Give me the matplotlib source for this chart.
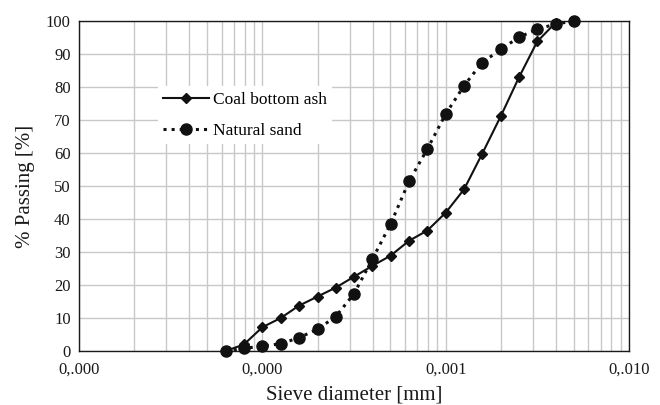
import matplotlib
matplotlib.use("Agg")
import matplotlib.pyplot as plt
from matplotlib.ticker import FixedLocator, FixedFormatter, LogLocator, NullFormatter

plt.rcParams['font.family'] = ['Liberation Serif', 'DejaVu Serif']

# Sieve diameters (axis units as in the original chart)
diam_coal = [0.0000631, 0.0000794, 0.0001, 0.000126, 0.000158, 0.000200, 0.000251,
             0.000316, 0.000398, 0.000501, 0.000631, 0.000794, 0.001, 0.00126,
             0.00158, 0.002, 0.00251, 0.00316, 0.00398]
pass_coal = [0.0, 2.0, 7.2, 10.0, 13.7, 16.5, 19.2, 22.5, 25.8, 28.9, 33.4, 36.5,
             41.9, 49.0, 59.7, 71.2, 82.9, 93.8, 99.5]

diam_sand = [0.0000631, 0.0000794, 0.0001, 0.000126, 0.000158, 0.000200, 0.000251,
             0.000316, 0.000398, 0.000501, 0.000631, 0.000794, 0.001, 0.00126,
             0.00158, 0.002, 0.00251, 0.00316, 0.00398, 0.00501]
pass_sand = [0.0, 0.8, 1.5, 2.2, 4.0, 6.6, 10.4, 17.3, 27.8, 38.5, 51.4, 61.2,
             71.8, 80.4, 87.4, 91.4, 95.1, 97.5, 99.1, 100.0]

x_ticks = [0.00001, 0.0001, 0.001, 0.01]
x_tick_labels = ["0,.000", "0,.000", "0,.001", "0,.010"]
y_ticks = [0, 10, 20, 30, 40, 50, 60, 70, 80, 90, 100]

fig = plt.figure(figsize=(6.6, 4.05), dpi=100)
ax = fig.add_axes([0.1197, 0.1333, 0.8333, 0.8148])

c = '#111111'
ax.plot(diam_coal, pass_coal, '-', color=c, lw=1.5, marker='D', ms=5.5,
        label='Coal bottom ash', clip_on=False, zorder=4)
ax.plot(diam_sand, pass_sand, ':', color=c, lw=2.2, marker='o', ms=8,
        label='Natural sand', clip_on=False, zorder=3)

ax.set_xscale('log')
ax.set_xlim(0.00001, 0.01)
ax.set_ylim(0, 100)
ax.xaxis.set_major_locator(FixedLocator(x_ticks))
ax.xaxis.set_major_formatter(FixedFormatter(x_tick_labels))
ax.xaxis.set_minor_locator(LogLocator(base=10, subs=range(2, 10)))
ax.xaxis.set_minor_formatter(NullFormatter())
ax.set_yticks(y_ticks)

ax.grid(True, which='both', axis='x', color='#c8c8c8', lw=1.0)
ax.grid(True, which='major', axis='y', color='#c8c8c8', lw=1.0)
ax.set_axisbelow(True)

ax.tick_params(axis='both', which='both', length=0, labelsize=12, colors='#1a1a1a')
ax.tick_params(axis='y', pad=6)
ax.tick_params(axis='x', pad=8)
for s in ax.spines.values():
    s.set_color('#1a1a1a')
    s.set_linewidth(1.0)

ax.set_xlabel('Sieve diameter [mm]', fontsize=15, labelpad=5, color='#1a1a1a')
ax.set_ylabel('% Passing [%]', fontsize=15, labelpad=8, color='#1a1a1a')

leg = ax.legend(loc='center left', bbox_to_anchor=(0.1436, 0.715), frameon=True,
                fontsize=12.5, handlelength=2.65, handletextpad=0.23,
                labelspacing=0.85, borderpad=0.3, borderaxespad=0, fancybox=False)
leg.get_frame().set_facecolor('white')
leg.get_frame().set_edgecolor('none')
leg.get_frame().set_alpha(1)

fig.savefig('out.png', dpi=100)
